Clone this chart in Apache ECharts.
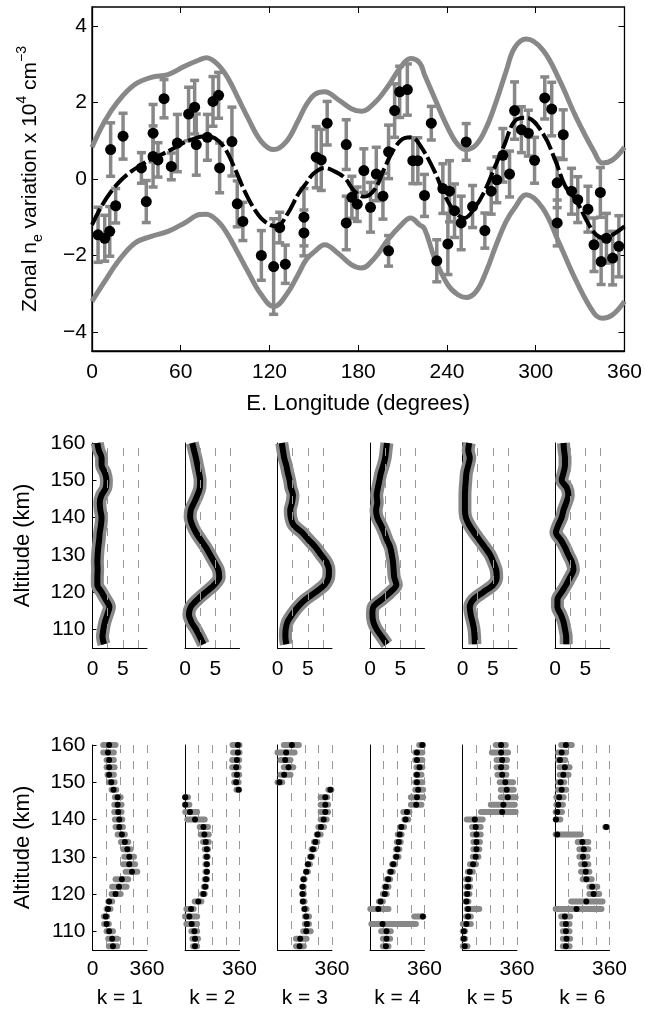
<!DOCTYPE html>
<html>
<head>
<meta charset="utf-8">
<title>Zonal ne variation</title>
<script src="https://cdn.jsdelivr.net/npm/echarts@6.0.0/dist/echarts.min.js"></script>
<style>
html,body{margin:0;padding:0;background:#fff;}
#main{width:645px;height:1013px;}
</style>
</head>
<body>
<div id="main"></div>
<script>
// observed points: longitude, value, error
var obsLon = [4.1,8.6,12.0,12.6,16.0,21.0,33.4,36.7,41.3,41.3,44.6,48.7,53.6,57.7,65.3,69.4,70.5,78.0,81.8,85.6,86.3,94.6,98.2,102.0,114.5,122.8,126.9,130.7,143.3,143.3,151.6,155.0,159.0,171.9,171.9,175.7,179.3,183.8,188.3,192.2,196.7,200.5,200.5,204.6,208.0,213.2,216.9,220.3,224.8,229.4,233.1,237.2,240.6,241.7,245.1,249.6,253.0,257.3,265.6,269.9,273.7,277.8,282.3,285.7,290.3,295.0,299.2,306.1,310.8,314.5,314.5,318.6,324.2,328.4,335.3,339.4,343.7,344.2,347.8,352.0,356.2];
var obsVal = [-1.46,-1.55,-1.37,0.77,-0.70,1.12,0.29,-0.59,1.20,0.59,0.50,2.10,0.33,0.94,1.70,1.88,0.90,1.09,2.03,2.19,0.29,0.98,-0.65,-1.11,-2.00,-2.29,-1.27,-2.23,-1.00,-1.41,0.57,0.50,1.46,0.90,-1.15,-0.48,-0.66,0.22,-0.74,0.13,-0.45,-1.88,0.71,1.79,2.28,2.34,0.48,0.48,-0.43,1.46,-2.14,-0.25,-1.70,-0.32,-0.83,-1.15,0.97,-0.72,-1.35,-0.32,-0.02,0.62,0.13,1.79,1.29,1.20,0.49,2.12,1.83,-0.10,-1.15,1.16,-0.32,-0.54,-0.79,-1.72,-0.35,-2.16,-1.55,-2.07,-1.76];
var obsErr = [0.72,0.6,0.65,0.7,0.45,0.6,0.4,0.55,0.75,0.8,0.45,0.5,0.35,0.75,0.7,0.7,0.8,0.6,0.65,0.6,0.65,0.9,0.6,0.5,0.65,1.25,0.4,0.5,0.75,0.6,0.8,0.8,0.57,0.65,0.7,0.55,0.45,0.57,0.65,0.7,0.6,0.4,0.7,0.7,0.67,0.67,0.6,0.6,0.55,0.44,0.55,0.65,0.8,0.8,0.7,0.7,0.48,0.55,0.46,0.6,0.6,0.7,0.6,0.75,0.6,0.6,0.6,0.55,0.7,0.65,0.6,0.65,0.6,0.6,0.6,0.7,0.65,0.6,0.65,0.7,0.8];

// fitted curve
var fitLon = [0,6.3,13.1,19.9,26.6,33.4,40.1,46.9,53.6,60.4,67.2,76.2,82.9,89.7,96.4,103.2,110,116.7,124.6,132.5,139.2,145,150,157.3,164,170.8,177.5,184.3,191,197.8,204.6,211.3,215.9,221.5,231.6,238.3,245.1,251.9,258.6,265.4,272.1,278.9,285.7,293.6,304.7,313.1,320,327,335.3,340.9,346.5,352,360];
var fitVal = [-1.2,-0.72,-0.32,-0.02,0.2,0.37,0.53,0.64,0.77,0.92,1.03,1.12,1.07,0.81,0.29,-0.32,-0.8,-1.11,-1.24,-0.89,-0.41,-0.1,0.15,0.29,0.2,0.03,-0.32,-0.46,-0.28,0.29,0.81,1.07,1.09,0.9,0.2,-0.41,-0.85,-1.02,-0.76,-0.32,0.29,0.9,1.51,1.6,1.2,0.5,-0.19,-0.54,-1.15,-1.46,-1.55,-1.46,-1.24];

// envelope
var envLon = [0,8.6,17.6,28.9,40.1,51.4,62.6,72.8,77.3,85.2,91.9,98.7,105.4,114.5,123,131.4,139.2,145,150.5,157.3,166.3,175.3,182.1,191,200,209.1,215.4,221.5,224.8,231.6,240.6,247.4,253,259.8,266.5,273.3,280,285.7,293.6,304.7,315.9,327,339.4,345.1,352,360];
var envUpper = [0.83,1.51,2.03,2.47,2.66,2.73,2.95,3.12,3.17,2.99,2.64,2.12,1.6,0.98,0.77,0.98,1.51,1.95,2.21,2.28,2.08,1.84,1.77,1.99,2.42,2.95,3.15,3.04,2.73,2.12,1.34,0.9,0.77,0.9,1.34,2.03,2.82,3.43,3.66,3.38,2.6,1.64,0.72,0.42,0.5,0.83];
var envLower = [-3.2,-2.68,-2.16,-1.68,-1.5,-1.37,-1.15,-0.93,-0.92,-1.11,-1.46,-1.94,-2.42,-3.03,-3.34,-3.03,-2.51,-2.1,-1.9,-1.72,-1.94,-2.24,-2.33,-2.07,-1.59,-1.2,-1.02,-1.2,-1.3,-2.07,-2.77,-3.03,-3.1,-2.94,-2.42,-1.72,-1.11,-0.76,-0.41,-0.76,-1.68,-2.64,-3.51,-3.64,-3.55,-3.2];

var valTicks = [-4,-2,0,2,4];

// altitude rows of the small panels
var alt = [160,158,156,154,152,150,148,146,144,142,140,138,136,134,132,130,128,126,124,122,120,118,116,114,112,110,108,106];
var altTicks = [110,120,130,140,150,160];

// amplitude profiles k=1..6
var ampK1 = [0.8,1.05,1.5,1.5,2.05,2.3,2.2,1.5,1.2,1.3,1.5,1.4,1.2,1.1,0.95,0.85,0.8,0.85,0.8,0.8,1.5,2.2,2.8,2.45,2.05,1.8,1.65,1.9];
var ampK2 = [1.2,1.5,1.8,2.05,2.3,2.5,2.45,2.05,1.5,0.95,0.85,1.2,1.8,2.6,3.45,4.15,4.85,5.5,5.65,4.85,3.45,2.05,0.95,0.65,1.05,1.8,2.45,3.05];
var ampK3 = [0.7,0.9,1.1,1.45,1.7,2.0,2.2,2.55,2.4,2.1,2.2,2.65,4.05,5.15,6.3,7.2,8.1,8.5,8.45,7.8,6.3,4.6,3.35,2.4,1.65,1.35,1.3,1.45];
var ampK4 = [2.8,2.65,2.5,2.2,1.8,1.55,1.3,1.1,1.2,1.0,1.2,1.8,2.35,2.8,3.35,3.6,3.8,3.9,4.0,4.35,3.35,1.95,0.55,0.4,0.55,1.1,1.95,2.8];
var ampK5 = [1.1,0.95,1.2,0.95,0.65,0.55,0.45,0.4,0.4,0.4,0.55,1.1,1.9,2.8,3.7,4.55,5.1,5.55,5.65,5.1,3.45,1.8,1.2,1.35,1.65,1.9,2.0,2.05];
var ampK6 = [1.4,1.5,1.65,1.65,1.4,1.1,1.95,2.2,1.85,1.4,1.1,0.55,0.15,0.95,1.65,2.2,2.8,3.05,2.5,1.85,1.1,0.4,0.4,0.95,1.4,1.65,1.85,1.85];
var ampGrid = [2.5,5,7.5];

// phase profiles k=1..6 (degrees) with spread
var phaseK1 = [110,102,110,110,110,124,139,166,166,170,177,177,194,214,230,243,243,261,194,175,152,110,102,88,93,110,130,135];
var phaseLoK1 = [71,71,93,93,99,108,126,148,144,144,148,152,166,188,203,210,203,219,152,130,126,104,93,75,77,93,104,108];
var phaseHiK1 = [152,141,141,146,141,146,157,186,192,192,197,201,214,236,252,274,281,296,236,225,186,130,119,97,108,135,163,163];
var phaseK2 = [349,349,343,338,343,338,354,2,2,33,66,122,128,137,144,144,144,144,139,133,122,88,40,29,44,62,66,66];
var phaseLoK2 = [314,318,312,312,325,325,340,0,0,2,15,97,104,119,130,135,135,135,130,124,113,64,9,0,9,42,49,53];
var phaseHiK2 = [360,360,358,354,358,354,358,20,29,80,130,152,157,157,152,150,146,146,146,139,130,108,57,80,80,80,86,80];
var phaseK3 = [95,57,51,73,44,13,349,316,316,316,305,287,265,250,234,221,201,190,172,166,166,168,179,190,194,190,150,146];
var phaseLoK3 = [42,0,20,42,20,0,336,285,285,285,285,270,259,241,225,214,199,188,170,163,163,166,175,181,181,170,122,122];
var phaseHiK3 = [141,113,86,104,86,31,356,329,334,334,325,307,285,263,245,230,214,201,179,174,174,179,192,208,208,219,192,174];
var phaseK4 = [345,310,310,327,310,310,318,310,305,244,235,207,196,190,181,174,153,137,120,105,98,70,55,349,83,109,109,105];
var phaseLoK4 = [325,299,299,307,303,299,299,270,270,220,227,199,183,177,172,168,146,129,111,96,85,59,2,292,9,74,85,85];
var phaseHiK4 = [351,346,346,346,340,346,351,351,340,260,253,225,209,203,194,188,166,150,133,122,111,85,122,352,303,137,133,122];
var phaseK5 = [255,255,262,255,262,283,292,299,270,262,81,87,92,92,92,87,70,48,37,37,31,26,37,37,26,9,9,15];
var phaseLoK5 = [220,194,225,225,231,246,253,253,187,122,28,63,68,72,72,68,50,35,24,24,24,20,28,24,2,2,2,2];
var phaseHiK5 = [286,301,294,290,290,334,338,351,345,351,133,120,120,115,111,105,89,68,50,50,46,39,111,55,55,17,17,33];
var phaseK6 = [72,44,33,65,55,37,44,28,22,15,7,338,15,181,190,185,196,203,207,246,255,207,142,65,72,72,76,72];
var phaseLoK6 = [41,20,20,31,31,20,20,9,9,4,4,332,4,150,161,161,172,172,183,227,227,107,4,41,48,52,52,52];
var phaseHiK6 = [111,74,68,96,89,61,74,57,52,46,35,344,170,220,220,214,220,227,242,279,292,314,307,100,96,96,100,96];

var ampList = [ampK1,ampK2,ampK3,ampK4,ampK5,ampK6];
var phaseList = [phaseK1,phaseK2,phaseK3,phaseK4,phaseK5,phaseK6];
var phaseLoList = [phaseLoK1,phaseLoK2,phaseLoK3,phaseLoK4,phaseLoK5,phaseLoK6];
var phaseHiList = [phaseHiK1,phaseHiK2,phaseHiK3,phaseHiK4,phaseHiK5,phaseHiK6];

var FONT = '"Liberation Sans", Arial, Helvetica, sans-serif';
var GRAY = '#888888';
var panelLeft = [92.5,185,277.5,370,462.5,555];
var panelW = 54.5;

function pairs(xs, ys){
	var out = [];
	for(var i=0;i<xs.length;i++){ out.push([xs[i], ys[i]]); }
	return out;
}
function minus(v){ return String(v).replace('-', '\u2212'); }

var chart = echarts.init(document.getElementById('main'), null, {renderer:'canvas'});

var grid = [{left:92, top:7, width:533, height:344, show:true, borderColor:'#000', borderWidth:1.3, backgroundColor:'transparent'}];
var xAxis = [];
var yAxis = [];
var series = [];

// top panel axes
xAxis.push({
	type:'value', gridIndex:0, min:0, max:360, interval:60,
	name:'E. Longitude (degrees)', nameLocation:'middle', nameGap:42,
	nameTextStyle:{fontFamily:FONT, fontSize:22, color:'#000'},
	axisLine:{show:true, onZero:false, lineStyle:{color:'#000', width:1.3}},
	axisTick:{inside:true, length:6, lineStyle:{color:'#000'}},
	axisLabel:{fontFamily:FONT, fontSize:21, color:'#000', margin:11},
	splitLine:{show:false}
});
xAxis.push({
	type:'value', gridIndex:0, position:'top', min:0, max:360, interval:60,
	axisLine:{show:false, onZero:false}, axisTick:{inside:true, length:6, lineStyle:{color:'#000'}},
	axisLabel:{show:false}, splitLine:{show:false}
});
yAxis.push({
	type:'value', gridIndex:0, min:-4.5, max:4.5,
	name:'{a|Zonal n}{s|e}{a| variation x 10}{p|4}{a| cm}{p|\u22123}',
	nameLocation:'middle', nameGap:47,
	nameTextStyle:{
		color:'#000',
		rich:{
			a:{fontFamily:FONT, fontSize:21, lineHeight:30, color:'#000'},
			s:{fontFamily:FONT, fontSize:14, lineHeight:14, verticalAlign:'bottom', color:'#000'},
			p:{fontFamily:FONT, fontSize:14, lineHeight:14, verticalAlign:'top', color:'#000'}
		}
	},
	axisLine:{show:true, onZero:false, lineStyle:{color:'#000', width:1.3}},
	axisTick:{inside:true, length:6, customValues:valTicks, lineStyle:{color:'#000'}},
	axisLabel:{fontFamily:FONT, fontSize:21, color:'#000', margin:5, customValues:valTicks, formatter:minus},
	splitLine:{show:false}
});
yAxis.push({
	type:'value', gridIndex:0, position:'right', min:-4.5, max:4.5,
	axisLine:{show:false, onZero:false},
	axisTick:{inside:true, length:6, customValues:valTicks, lineStyle:{color:'#000'}},
	axisLabel:{show:false}, splitLine:{show:false}
});

// error bars
series.push({
	type:'custom', xAxisIndex:0, yAxisIndex:0, z:2,
	encode:{x:0, y:1},
	data: obsLon.map(function(v,i){ return [v, obsVal[i], obsErr[i]]; }),
	renderItem:function(params, api){
		var x = api.value(0), y = api.value(1), e = api.value(2);
		var t = api.coord([x, y+e]), b = api.coord([x, y-e]);
		var w = 4.5;
		var st = {stroke:GRAY, lineWidth:3.5};
		return {type:'group', children:[
			{type:'line', shape:{x1:t[0], y1:t[1], x2:b[0], y2:b[1]}, style:st},
			{type:'line', shape:{x1:t[0]-w, y1:t[1], x2:t[0]+w, y2:t[1]}, style:st},
			{type:'line', shape:{x1:b[0]-w, y1:b[1], x2:b[0]+w, y2:b[1]}, style:st}
		]};
	}
});
series.push({type:'line', xAxisIndex:0, yAxisIndex:0, z:3, data:pairs(envLon, envUpper), smooth:0.4, symbol:'none', lineStyle:{color:GRAY, width:5}});
series.push({type:'line', xAxisIndex:0, yAxisIndex:0, z:3, data:pairs(envLon, envLower), smooth:0.4, symbol:'none', lineStyle:{color:GRAY, width:5}});
series.push({type:'line', xAxisIndex:0, yAxisIndex:0, z:4, data:pairs(fitLon, fitVal), smooth:0.4, symbol:'none', lineStyle:{color:'#000', width:4, type:[18,4]}});
series.push({type:'scatter', xAxisIndex:0, yAxisIndex:0, z:5, data:pairs(obsLon, obsVal), symbolSize:11, itemStyle:{color:'#000', opacity:1}});

// small panels
for(var k=0;k<6;k++){
	var gm = grid.length;
	grid.push({left:panelLeft[k], top:443, width:panelW, height:205});
	var gp = grid.length;
	grid.push({left:panelLeft[k], top:745, width:panelW, height:205});
	var first = (k === 0);

	// amplitude
	xAxis.push({
		type:'value', gridIndex:gm, min:0, max:9,
		axisLine:{show:true, onZero:false, lineStyle:{color:'#000', width:1}},
		axisTick:{show:false},
		axisLabel:{fontFamily:FONT, fontSize:21, color:'#000', margin:11, customValues:[0,5]},
		splitLine:{show:false}
	});
	yAxis.push({
		type:'value', gridIndex:gm, min:105, max:160,
		name: first ? 'Altitude (km)' : '', nameLocation:'middle', nameGap:59,
		nameTextStyle:{fontFamily:FONT, fontSize:22, color:'#000'},
		axisLine:{show:true, onZero:false, lineStyle:{color:'#000', width:1}},
		axisTick:{show:first, inside:true, length:4, customValues:altTicks, lineStyle:{color:'#000'}},
		axisLabel:{show:first, fontFamily:FONT, fontSize:21, color:'#000', margin:7, customValues:altTicks},
		splitLine:{show:false}
	});
	var ai = xAxis.length - 1;
	// dashed guide lines
	series.push({
		type:'line', xAxisIndex:ai, yAxisIndex:ai, z:1, data:[], symbol:'none',
		markLine:{
			silent:true, symbol:'none', label:{show:false}, animation:false,
			lineStyle:{color:'#999', width:1, type:[8,8]},
			data: ampGrid.map(function(v){ return {xAxis:v}; })
		}
	});
	series.push({type:'line', xAxisIndex:ai, yAxisIndex:ai, z:2, data:pairs(ampList[k], alt), smooth:0.3, symbol:'none', lineStyle:{color:GRAY, width:13}});
	series.push({type:'line', xAxisIndex:ai, yAxisIndex:ai, z:3, data:pairs(ampList[k], alt), smooth:0.3, symbol:'none', lineStyle:{color:'#000', width:6}});

	// phase
	xAxis.push({
		type:'value', gridIndex:gp, min:0, max:360, interval:90,
		name:'k = ' + (k+1), nameLocation:'middle', nameGap:38,
		nameTextStyle:{fontFamily:FONT, fontSize:21, color:'#000'},
		axisLine:{show:true, onZero:false, lineStyle:{color:'#000', width:1}},
		axisTick:{show:false},
		axisLabel:{fontFamily:FONT, fontSize:21, color:'#000', margin:9, customValues: first ? [0,360] : [360]},
		splitLine:{show:true, lineStyle:{color:'#999', width:1, type:[8,8]}}
	});
	yAxis.push({
		type:'value', gridIndex:gp, min:105, max:160,
		name: first ? 'Altitude (km)' : '', nameLocation:'middle', nameGap:59,
		nameTextStyle:{fontFamily:FONT, fontSize:22, color:'#000'},
		axisLine:{show:true, onZero:false, lineStyle:{color:'#000', width:1}},
		axisTick:{show:first, inside:true, length:4, customValues:altTicks, lineStyle:{color:'#000'}},
		axisLabel:{show:first, fontFamily:FONT, fontSize:21, color:'#000', margin:7, customValues:altTicks},
		splitLine:{show:false}
	});
	var pi = xAxis.length - 1;
	var lo = phaseLoList[k], hi = phaseHiList[k];
	series.push({
		type:'custom', xAxisIndex:pi, yAxisIndex:pi, z:2,
		encode:{x:[0,1], y:2},
		data: alt.map(function(a,i){ return [lo[i], hi[i], a]; }),
		renderItem:function(params, api){
			var p1 = api.coord([api.value(0), api.value(2)]);
			var p2 = api.coord([api.value(1), api.value(2)]);
			return {type:'line', shape:{x1:p1[0], y1:p1[1], x2:p2[0], y2:p2[1]},
				style:{stroke:GRAY, lineWidth:6, lineCap:'round'}};
		}
	});
	series.push({type:'scatter', xAxisIndex:pi, yAxisIndex:pi, z:3, data:pairs(phaseList[k], alt), symbolSize:6, itemStyle:{color:'#000', opacity:1}});
}

var option = {
	backgroundColor:'#fff',
	animation:false,
	grid:grid,
	xAxis:xAxis,
	yAxis:yAxis,
	series:series
};
chart.setOption(option);
</script>
</body>
</html>
